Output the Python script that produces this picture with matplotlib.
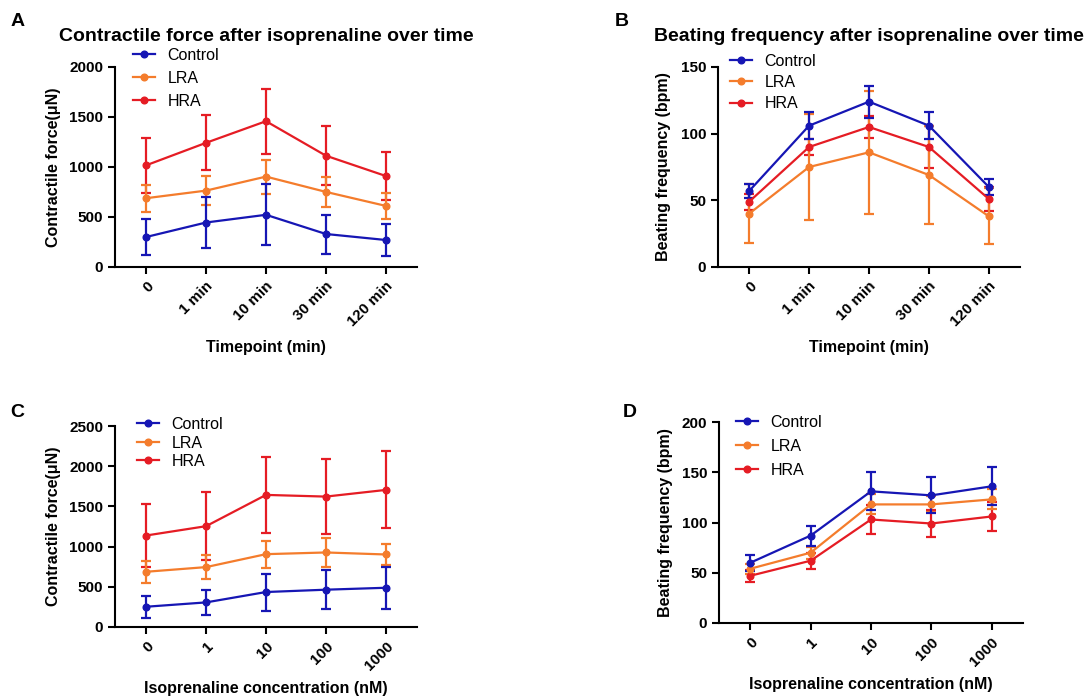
import matplotlib
matplotlib.use("Agg")
import matplotlib.pyplot as plt
from matplotlib.lines import Line2D
import numpy as np

plt.rcParams['font.family'] = ['Liberation Sans', 'DejaVu Sans']

# ---------------- data ----------------
time_labels = ["0", "1 min", "10 min", "30 min", "120 min"]
conc_labels = ["0", "1", "10", "100", "1000"]
groups = ["Control", "LRA", "HRA"]

# Panel A: contractile force over time (mean, SD)
a_control = [300, 445, 522, 330, 270]
a_control_sd = [180, 258, 305, 195, 158]
a_lra = [688, 764, 904, 751, 611]
a_lra_sd = [135, 146, 170, 150, 126]
a_hra = [1017, 1242, 1458, 1113, 910]
a_hra_sd = [272, 275, 325, 295, 243]

# Panel B: beating frequency over time
b_control = [57, 106, 124, 106, 60]
b_control_sd = [5, 10, 12, 10, 6]
b_lra = [40, 75, 86, 69, 38]
b_lra_sd = [22, 40, 46, 37, 21]
b_hra = [49, 90, 105, 90, 51]
b_hra_sd = [6, 6, 8, 16, 9]

# Panel C: contractile force vs concentration
c_control = [252, 306, 435, 464, 488]
c_control_sd = [135, 157, 230, 245, 260]
c_lra = [687, 745, 906, 927, 902]
c_lra_sd = [135, 145, 168, 182, 130]
c_hra = [1138, 1254, 1643, 1622, 1705]
c_hra_sd = [389, 422, 476, 464, 478]

# Panel D: beating frequency vs concentration
d_control = [60, 87, 131, 127, 136]
d_control_sd = [8, 10, 19, 18, 19]
d_lra = [54, 70, 118, 118, 123]
d_lra_sd = [5, 6, 10, 8, 10]
d_hra = [47, 62, 103, 99, 106]
d_hra_sd = [6, 8, 14, 13, 14]

colors = {"Control": "#1616b4", "LRA": "#f47c2c", "HRA": "#e51c24"}

fig = plt.figure(figsize=(10.86, 6.98), dpi=100)
W, H = 1086, 698


def axes_px(left, top, right, bottom):
    return fig.add_axes([left / W, 1 - bottom / H, (right - left) / W, (bottom - top) / H])


panels = [
    dict(box=(115, 67, 417, 267), letter="A", lpos=(18, 22),
         title="Contractile force after isoprenaline over time",
         ylabel="Contractile force(\u03bcN)", xlabel="Timepoint (min)",
         xt=time_labels, ylim=2000, ystep=500,
         data={"Control": (a_control, a_control_sd), "LRA": (a_lra, a_lra_sd), "HRA": (a_hra, a_hra_sd)},
         leg=(133, 48), lspace=0.5, xlab_y=-0.365, ylab_x=-54),
    dict(box=(718, 67, 1020, 267), letter="B", lpos=(622, 22),
         title="Beating frequency after isoprenaline over time",
         ylabel="Beating frequency (bpm)", xlabel="Timepoint (min)",
         xt=time_labels, ylim=150, ystep=50,
         data={"Control": (b_control, b_control_sd), "LRA": (b_lra, b_lra_sd), "HRA": (b_hra, b_hra_sd)},
         leg=(730, 54), lspace=0.38, xlab_y=-0.365, ylab_x=-47),
    dict(box=(115, 426, 417, 627), letter="C", lpos=(17, 412),
         title=None,
         ylabel="Contractile force(\u03bcN)", xlabel="Isoprenaline concentration (nM)",
         xt=conc_labels, ylim=2500, ystep=500,
         data={"Control": (c_control, c_control_sd), "LRA": (c_lra, c_lra_sd), "HRA": (c_hra, c_hra_sd)},
         leg=(137, 417), lspace=0.22, xlab_y=-0.27, ylab_x=-54),
    dict(box=(719, 422, 1023, 623), letter="D", lpos=(630, 412),
         title=None,
         ylabel="Beating frequency (bpm)", xlabel="Isoprenaline concentration (nM)",
         xt=conc_labels, ylim=200, ystep=50,
         data={"Control": (d_control, d_control_sd), "LRA": (d_lra, d_lra_sd), "HRA": (d_hra, d_hra_sd)},
         leg=(736, 415), lspace=0.55, xlab_y=-0.27, ylab_x=-46),
]

for p in panels:
    ax = axes_px(*p["box"])
    x = np.arange(len(p["xt"]))
    for g in ["HRA", "LRA", "Control"]:
        m, s = p["data"][g]
        ax.errorbar(x, m, yerr=s, color=colors[g], marker='o', markersize=4.8,
                    linewidth=1.6, elinewidth=1.6, capsize=3.5, capthick=1.6)
    ax.set_xlim(-0.52, len(x) - 0.48)
    ax.set_ylim(0, p["ylim"])
    ax.set_yticks(np.arange(0, p["ylim"] + 1, p["ystep"]))
    ax.set_xticks(x)
    ax.set_xticklabels(p["xt"], rotation=45, ha='right', rotation_mode='anchor',
                       fontweight='bold', fontsize=11)
    for lab in ax.get_yticklabels():
        lab.set_fontweight('bold')
        lab.set_fontsize(11)
    for sp in ["top", "right"]:
        ax.spines[sp].set_visible(False)
    for sp in ["left", "bottom"]:
        ax.spines[sp].set_linewidth(1.5)
    ax.tick_params(width=1.5, length=5, direction='out')
    ax.set_ylabel(p["ylabel"], fontweight='bold', fontsize=11.5)
    ax.set_xlabel(p["xlabel"], fontweight='bold', fontsize=11.5)
    bw = p["box"][2] - p["box"][0]
    ax.xaxis.set_label_coords(0.5, p["xlab_y"])
    ax.yaxis.set_label_coords(p["ylab_x"] / bw, 0.5)
    if p["title"]:
        ax.set_title(p["title"], fontweight='bold', fontsize=14, pad=19)
    handles = [Line2D([0], [0], color=colors[g], marker='o', markersize=4.8, linewidth=1.6)
               for g in groups]
    lx, ly = p["leg"]
    ax.legend(handles, groups, loc='upper left', frameon=False, fontsize=11.5,
              bbox_to_anchor=(lx / W, 1 - ly / H), bbox_transform=fig.transFigure,
              handlelength=1.4, handletextpad=0.75, labelspacing=p["lspace"],
              borderaxespad=0, borderpad=0)
    fig.text(p["lpos"][0] / W, 1 - p["lpos"][1] / H, p["letter"], fontweight='bold',
             fontsize=14, ha='center', va='center')

fig.savefig("out.png", dpi=100)
